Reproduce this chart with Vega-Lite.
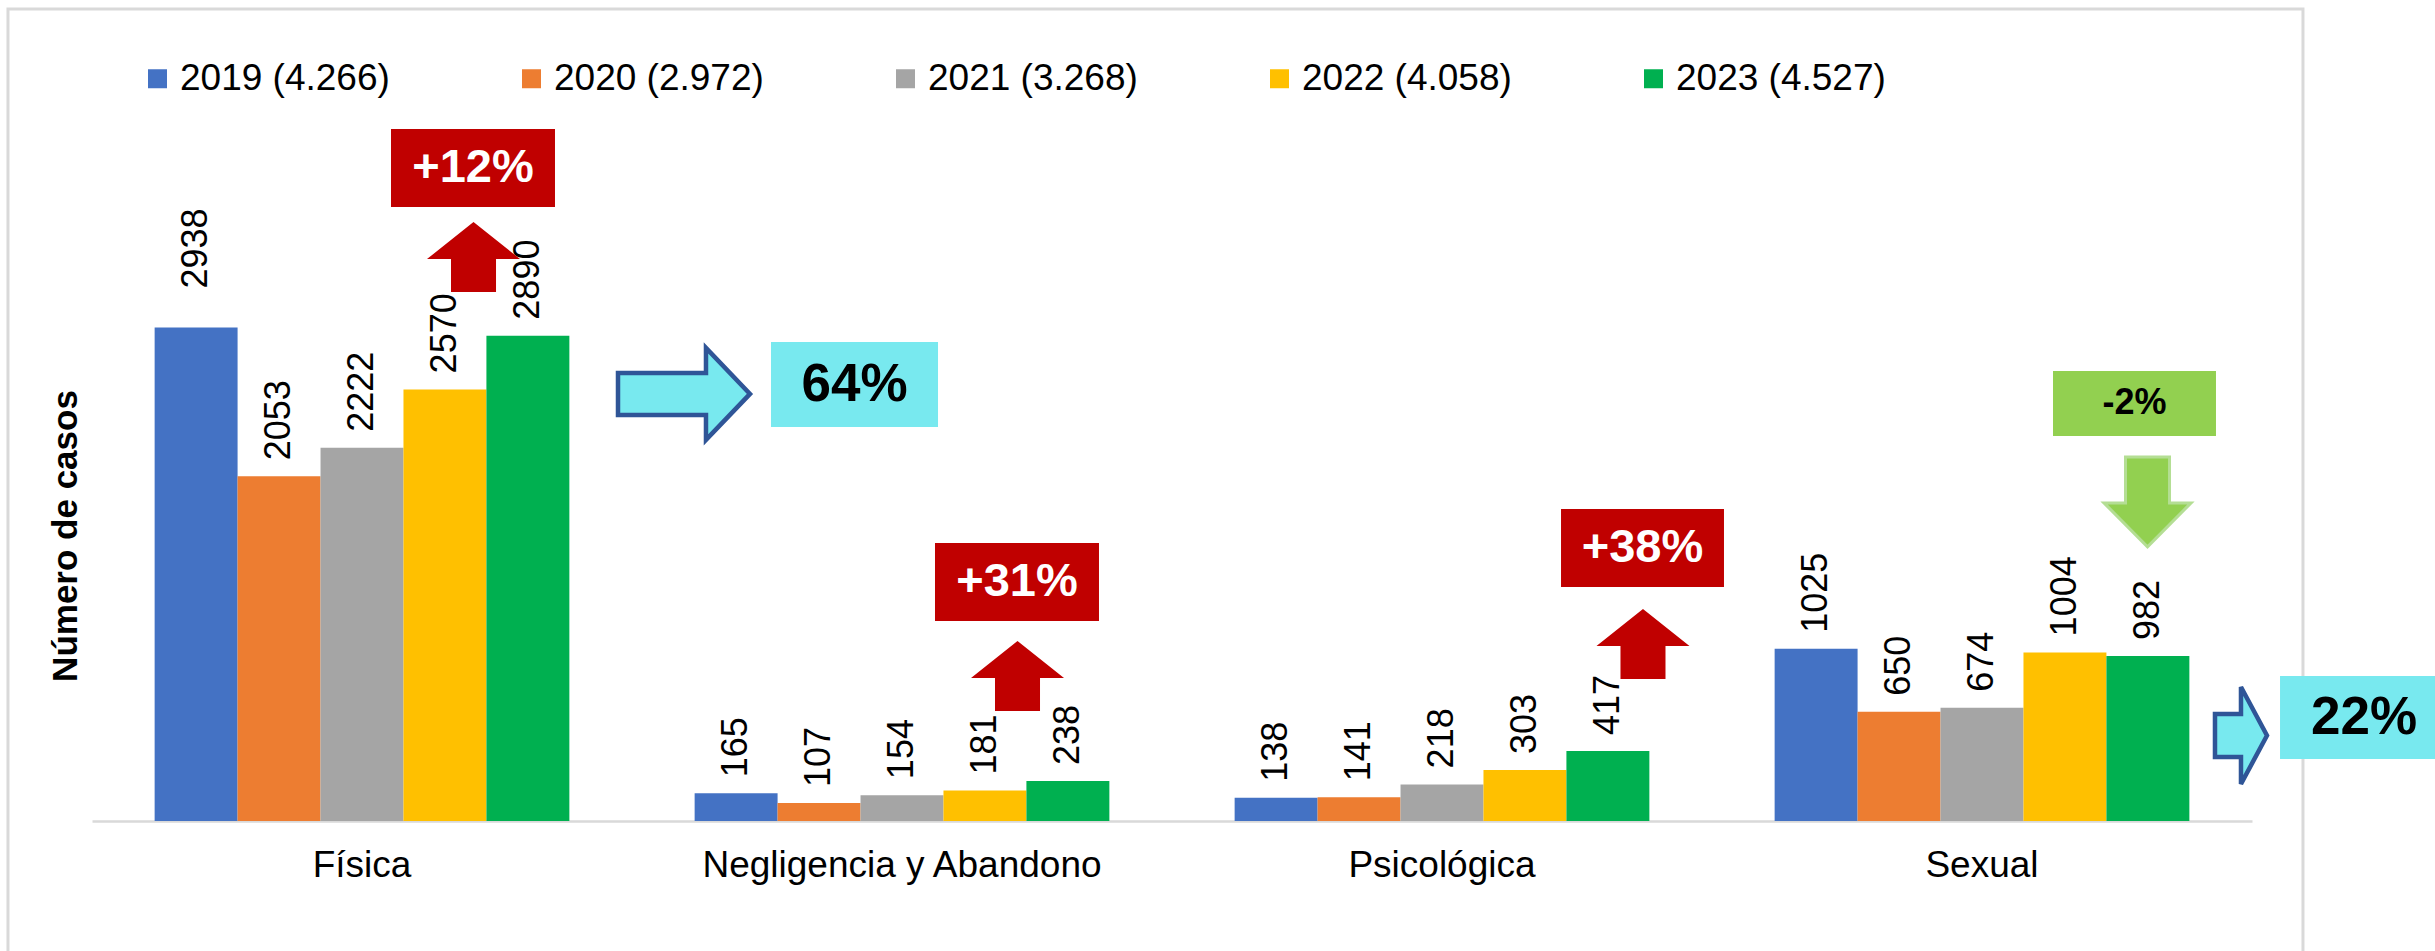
{
  "$schema": "https://vega.github.io/schema/vega-lite/v6.json",
  "width": 2160,
  "height": 571,
  "autosize": {"type": "none"},
  "padding": {"left": 92, "top": 250, "right": 183, "bottom": 130},
  "background": "white",
  "config": {"view": {"stroke": null}, "font": "Liberation Sans"},
  "datasets": {
    "casos": [
      {"tipo": "Física", "anio": "2019 (4.266)", "casos": 2938},
      {"tipo": "Física", "anio": "2020 (2.972)", "casos": 2053},
      {"tipo": "Física", "anio": "2021 (3.268)", "casos": 2222},
      {"tipo": "Física", "anio": "2022 (4.058)", "casos": 2570},
      {"tipo": "Física", "anio": "2023 (4.527)", "casos": 2890},
      {"tipo": "Negligencia y Abandono", "anio": "2019 (4.266)", "casos": 165},
      {"tipo": "Negligencia y Abandono", "anio": "2020 (2.972)", "casos": 107},
      {"tipo": "Negligencia y Abandono", "anio": "2021 (3.268)", "casos": 154},
      {"tipo": "Negligencia y Abandono", "anio": "2022 (4.058)", "casos": 181},
      {"tipo": "Negligencia y Abandono", "anio": "2023 (4.527)", "casos": 238},
      {"tipo": "Psicológica", "anio": "2019 (4.266)", "casos": 138},
      {"tipo": "Psicológica", "anio": "2020 (2.972)", "casos": 141},
      {"tipo": "Psicológica", "anio": "2021 (3.268)", "casos": 218},
      {"tipo": "Psicológica", "anio": "2022 (4.058)", "casos": 303},
      {"tipo": "Psicológica", "anio": "2023 (4.527)", "casos": 417},
      {"tipo": "Sexual", "anio": "2019 (4.266)", "casos": 1025},
      {"tipo": "Sexual", "anio": "2020 (2.972)", "casos": 650},
      {"tipo": "Sexual", "anio": "2021 (3.268)", "casos": 674},
      {"tipo": "Sexual", "anio": "2022 (4.058)", "casos": 1004},
      {"tipo": "Sexual", "anio": "2023 (4.527)", "casos": 982}
    ],
    "marco": [{"x": -0.1556, "x2": 4.0944, "y": 4835, "y2": -830}],
    "cajas": [
      {"grupo": "rojo", "texto": "+12%", "x": 0.5537, "x2": 0.8574, "y": 4120, "y2": 3656, "xc": 0.7056, "yc": 3888},
      {"grupo": "rojo", "texto": "+31%", "x": 1.5611, "x2": 1.8648, "y": 1655, "y2": 1191, "xc": 1.7130, "yc": 1423},
      {"grupo": "rojo", "texto": "+38%", "x": 2.7204, "x2": 3.0222, "y": 1858, "y2": 1393, "xc": 2.8713, "yc": 1626},
      {"grupo": "cian", "texto": "64%", "x": 1.2574, "x2": 1.5667, "y": 2852, "y2": 2346, "xc": 1.4120, "yc": 2599},
      {"grupo": "cian", "texto": "22%", "x": 4.0519, "x2": 4.40, "y": 863, "y2": 369, "xc": 4.2074, "yc": 616},
      {"grupo": "verde", "texto": "-2%", "x": 3.6315, "x2": 3.9333, "y": 2680, "y2": 2293, "xc": 3.7824, "yc": 2486}
    ],
    "flechas": [
      {"tipo": "roja", "x": 0.7065, "y": 3358},
      {"tipo": "roja", "x": 1.7139, "y": 863},
      {"tipo": "roja", "x": 2.8722, "y": 1054},
      {"tipo": "cian1", "x": 1.0963, "y": 2543},
      {"tipo": "cian2", "x": 3.9796, "y": 509},
      {"tipo": "verde", "x": 3.8065, "y": 1900}
    ]
  },
  "resolve": {"scale": {"x": "independent"}},
  "layer": [
    {
      "data": {"name": "marco"},
      "mark": {"type": "rect", "fill": null, "fillOpacity": 0, "stroke": "#D9D9D9", "strokeWidth": 3},
      "encoding": {
        "x": {"field": "x", "type": "quantitative", "scale": {"domain": [0, 4], "nice": false}, "axis": null},
        "x2": {"field": "x2"},
        "y": {"field": "y", "type": "quantitative", "scale": {"domain": [0, 3400], "nice": false}},
        "y2": {"field": "y2"}
      }
    },
    {
      "data": {"name": "casos"},
      "mark": {"type": "bar"},
      "encoding": {
        "x": {
          "field": "tipo", "type": "nominal", "sort": null,
          "scale": {"paddingInner": 0.232, "paddingOuter": 0.116},
          "axis": {
            "title": null, "labelAngle": 0, "labelFontSize": 37, "labelFont": "Liberation Sans",
            "labelColor": "black", "labelBaseline": "alphabetic", "labelPadding": 55, "labelLimit": 800,
            "ticks": false, "domainColor": "#D9D9D9", "domainWidth": 2.5
          }
        },
        "xOffset": {"field": "anio", "type": "nominal", "sort": null, "scale": {"paddingInner": 0, "paddingOuter": 0}},
        "y": {
          "field": "casos", "type": "quantitative",
          "scale": {"domain": [0, 3400], "nice": false},
          "axis": {
            "title": "Número de casos", "titleFontSize": 35, "titleFont": "Liberation Sans",
            "titleFontWeight": "bold", "titleColor": "black", "titlePadding": 9,
            "labels": false, "ticks": false, "domain": false, "grid": false
          }
        },
        "color": {
          "field": "anio", "type": "nominal", "sort": null,
          "scale": {"range": ["#4472C4", "#ED7D31", "#A5A5A5", "#FFC000", "#00B050"]},
          "legend": {
            "title": null, "orient": "none", "legendX": 47, "legendY": -190, "direction": "horizontal",
            "columns": 5, "columnPadding": 123, "padding": 0, "symbolType": "square", "symbolSize": 361,
            "symbolStrokeWidth": 0, "labelOffset": 4, "labelFontSize": 37, "labelFont": "Liberation Sans",
            "labelColor": "black", "labelLimit": 400
          }
        }
      }
    },
    {
      "data": {"name": "casos"},
      "transform": [{"filter": "datum.casos !== 2938"}],
      "mark": {"type": "text", "angle": 270, "align": "left", "baseline": "middle", "dx": 16, "fontSize": 36, "color": "black", "font": "Liberation Sans"},
      "encoding": {
        "x": {"field": "tipo", "type": "nominal", "sort": ["Física", "Negligencia y Abandono", "Psicológica", "Sexual"], "scale": {"domain": ["Física", "Negligencia y Abandono", "Psicológica", "Sexual"], "paddingInner": 0.232, "paddingOuter": 0.116}, "axis": null},
        "xOffset": {"field": "anio", "type": "nominal", "sort": null, "scale": {"paddingInner": 0, "paddingOuter": 0}},
        "y": {"field": "casos", "type": "quantitative", "scale": {"domain": [0, 3400], "nice": false}},
        "text": {"field": "casos", "type": "quantitative", "format": "d"}
      }
    },
    {
      "data": {"name": "casos"},
      "transform": [{"filter": "datum.casos === 2938"}],
      "mark": {"type": "text", "angle": 270, "align": "left", "baseline": "middle", "dx": 39, "fontSize": 36, "color": "black", "font": "Liberation Sans"},
      "encoding": {
        "x": {"field": "tipo", "type": "nominal", "scale": {"domain": ["Física", "Negligencia y Abandono", "Psicológica", "Sexual"], "paddingInner": 0.232, "paddingOuter": 0.116}, "axis": null},
        "xOffset": {"field": "anio", "type": "nominal", "scale": {"domain": ["2019 (4.266)", "2020 (2.972)", "2021 (3.268)", "2022 (4.058)", "2023 (4.527)"], "paddingInner": 0, "paddingOuter": 0}},
        "y": {"field": "casos", "type": "quantitative", "scale": {"domain": [0, 3400], "nice": false}},
        "text": {"field": "casos", "type": "quantitative", "format": "d"}
      }
    },
    {
      "data": {"name": "cajas"},
      "transform": [{"filter": "datum.grupo === 'rojo'"}],
      "mark": {"type": "rect", "color": "#C00000"},
      "encoding": {
        "x": {"field": "x", "type": "quantitative", "scale": {"domain": [0, 4], "nice": false}, "axis": null},
        "x2": {"field": "x2"},
        "y": {"field": "y", "type": "quantitative", "scale": {"domain": [0, 3400], "nice": false}},
        "y2": {"field": "y2"}
      }
    },
    {
      "data": {"name": "cajas"},
      "transform": [{"filter": "datum.grupo === 'cian'"}],
      "mark": {"type": "rect", "color": "#78E9EF"},
      "encoding": {
        "x": {"field": "x", "type": "quantitative", "scale": {"domain": [0, 4], "nice": false}, "axis": null},
        "x2": {"field": "x2"},
        "y": {"field": "y", "type": "quantitative", "scale": {"domain": [0, 3400], "nice": false}},
        "y2": {"field": "y2"}
      }
    },
    {
      "data": {"name": "cajas"},
      "transform": [{"filter": "datum.grupo === 'verde'"}],
      "mark": {"type": "rect", "color": "#92D050"},
      "encoding": {
        "x": {"field": "x", "type": "quantitative", "scale": {"domain": [0, 4], "nice": false}, "axis": null},
        "x2": {"field": "x2"},
        "y": {"field": "y", "type": "quantitative", "scale": {"domain": [0, 3400], "nice": false}},
        "y2": {"field": "y2"}
      }
    },
    {
      "data": {"name": "cajas"},
      "transform": [{"filter": "datum.grupo === 'rojo'"}],
      "mark": {"type": "text", "align": "center", "baseline": "middle", "fontSize": 47, "fontWeight": "bold", "color": "white", "font": "Liberation Sans"},
      "encoding": {
        "x": {"field": "xc", "type": "quantitative", "scale": {"domain": [0, 4], "nice": false}, "axis": null},
        "y": {"field": "yc", "type": "quantitative", "scale": {"domain": [0, 3400], "nice": false}},
        "text": {"field": "texto"}
      }
    },
    {
      "data": {"name": "cajas"},
      "transform": [{"filter": "datum.grupo === 'cian'"}],
      "mark": {"type": "text", "align": "center", "baseline": "middle", "fontSize": 53, "fontWeight": "bold", "color": "black", "font": "Liberation Sans"},
      "encoding": {
        "x": {"field": "xc", "type": "quantitative", "scale": {"domain": [0, 4], "nice": false}, "axis": null},
        "y": {"field": "yc", "type": "quantitative", "scale": {"domain": [0, 3400], "nice": false}},
        "text": {"field": "texto"}
      }
    },
    {
      "data": {"name": "cajas"},
      "transform": [{"filter": "datum.grupo === 'verde'"}],
      "mark": {"type": "text", "align": "center", "baseline": "middle", "fontSize": 36, "fontWeight": "bold", "color": "black", "font": "Liberation Sans"},
      "encoding": {
        "x": {"field": "xc", "type": "quantitative", "scale": {"domain": [0, 4], "nice": false}, "axis": null},
        "y": {"field": "yc", "type": "quantitative", "scale": {"domain": [0, 3400], "nice": false}},
        "text": {"field": "texto"}
      }
    },
    {
      "data": {"name": "flechas"},
      "transform": [{"filter": "datum.tipo === 'roja'"}],
      "mark": {"type": "point", "shape": "M0,-0.753 L1,0.043 L0.484,0.043 L0.484,0.753 L-0.484,0.753 L-0.484,0.043 L-1,0.043 Z", "size": 8649, "filled": true, "fill": "#C00000", "strokeWidth": 0, "opacity": 1},
      "encoding": {
        "x": {"field": "x", "type": "quantitative", "scale": {"domain": [0, 4], "nice": false}, "axis": null},
        "y": {"field": "y", "type": "quantitative", "scale": {"domain": [0, 3400], "nice": false}}
      }
    },
    {
      "data": {"name": "flechas"},
      "transform": [{"filter": "datum.tipo === 'cian1'"}],
      "mark": {"type": "point", "shape": "M-1,-0.318 L0.333,-0.318 L0.333,-0.697 L1,0 L0.333,0.697 L0.333,0.318 L-1,0.318 Z", "size": 17424, "filled": true, "fill": "#78E9EF", "stroke": "#2F5597", "strokeWidth": 4.5, "opacity": 1},
      "encoding": {
        "x": {"field": "x", "type": "quantitative", "scale": {"domain": [0, 4], "nice": false}, "axis": null},
        "y": {"field": "y", "type": "quantitative", "scale": {"domain": [0, 3400], "nice": false}}
      }
    },
    {
      "data": {"name": "flechas"},
      "transform": [{"filter": "datum.tipo === 'cian2'"}],
      "mark": {"type": "point", "shape": "M-0.536,-0.443 L0,-0.443 L0,-1 L0.536,0 L0,1 L0,0.443 L-0.536,0.443 Z", "size": 9409, "filled": true, "fill": "#78E9EF", "stroke": "#2F5597", "strokeWidth": 4.5, "opacity": 1},
      "encoding": {
        "x": {"field": "x", "type": "quantitative", "scale": {"domain": [0, 4], "nice": false}, "axis": null},
        "y": {"field": "y", "type": "quantitative", "scale": {"domain": [0, 3400], "nice": false}}
      }
    },
    {
      "data": {"name": "flechas"},
      "transform": [{"filter": "datum.tipo === 'verde'"}],
      "mark": {"type": "point", "shape": "M-0.489,-1 L0.489,-1 L0.489,0.022 L0.967,0.022 L0,1 L-0.967,0.022 L-0.489,0.022 Z", "size": 8100, "filled": true, "fill": "#92D050", "stroke": "#B4DE94", "strokeWidth": 3, "opacity": 1},
      "encoding": {
        "x": {"field": "x", "type": "quantitative", "scale": {"domain": [0, 4], "nice": false}, "axis": null},
        "y": {"field": "y", "type": "quantitative", "scale": {"domain": [0, 3400], "nice": false}}
      }
    }
  ]
}
